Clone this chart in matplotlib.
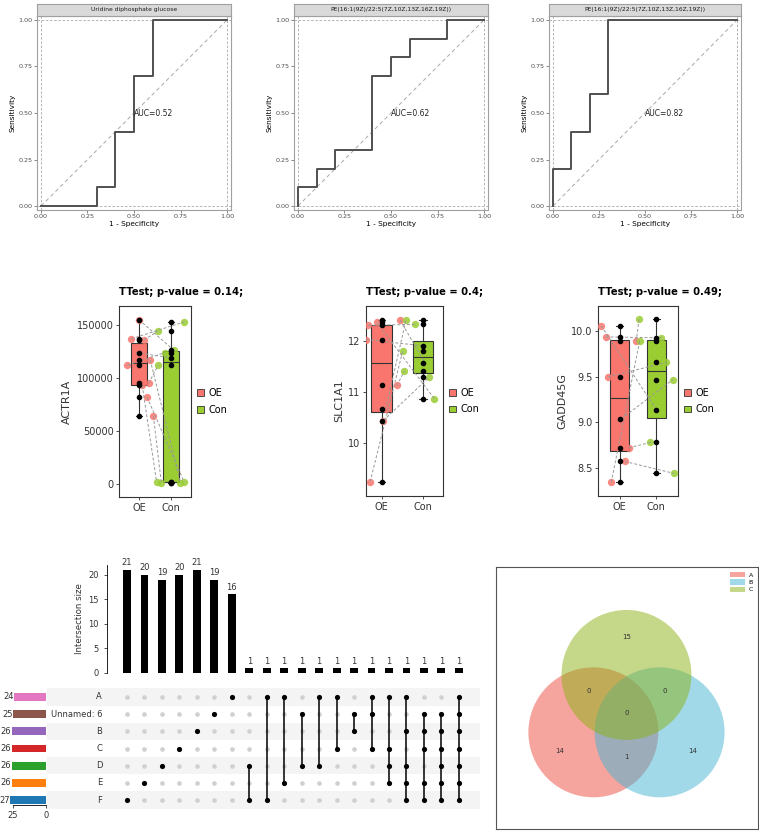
import numpy as np
import matplotlib.pyplot as plt
from matplotlib.patches import Patch, Circle, Rectangle
import matplotlib.transforms as mtransforms

# ---------------- data ----------------
# ROC curves (top row)
roc_titles = ["Uridine diphosphate glucose",
              "PE(16:1(9Z)/22:5(7Z,10Z,13Z,16Z,19Z))",
              "PE(16:1(9Z)/22:5(7Z,10Z,13Z,16Z,19Z))"]
roc_fpr = [
    [0, 0.3, 0.3, 0.4, 0.4, 0.5, 0.5, 0.6, 0.6, 1.0],
    [0, 0, 0.1, 0.1, 0.2, 0.2, 0.4, 0.4, 0.5, 0.5, 0.6, 0.6, 0.8, 0.8, 1.0],
    [0, 0, 0.1, 0.1, 0.2, 0.2, 0.3, 0.3, 1.0],
]
roc_tpr = [
    [0, 0, 0.1, 0.1, 0.4, 0.4, 0.7, 0.7, 1.0, 1.0],
    [0, 0.1, 0.1, 0.2, 0.2, 0.3, 0.3, 0.7, 0.7, 0.8, 0.8, 0.9, 0.9, 1.0, 1.0],
    [0, 0.2, 0.2, 0.4, 0.4, 0.6, 0.6, 1.0, 1.0],
]
roc_auc = [0.52, 0.62, 0.82]

# paired boxplots (middle row)
genes = ["ACTR1A", "SLC1A1", "GADD45G"]
pvals = ["0.14", "0.4", "0.49"]
groups = ["OE", "Con"]
oe_vals = [
    [155000, 137000, 136000, 124000, 117000, 112000, 95000, 93000, 82000, 64000],
    [12.41, 12.37, 12.31, 12.03, 11.13, 10.67, 10.44, 9.24],
    [10.06, 9.94, 9.89, 9.50, 9.04, 8.72, 8.57, 8.34],
]
con_vals = [
    [126000, 153000, 144000, 119000, 1200, 124000, 112000, 2000, 1500, 800],
    [11.58, 10.87, 12.33, 11.90, 11.41, 12.41, 11.29, 11.80],
    [9.14, 9.93, 10.14, 9.66, 9.47, 8.78, 8.44, 9.90],
]
# horizontal jitter of the coloured points
oe_jit = [
    [0.0, -0.25, 0.15, -0.1, 0.35, -0.37, 0.3, 0.1, 0.25, 0.45],
    [0.45, -0.12, -0.33, -0.37, 0.37, 0.1, 0.04, -0.28],
    [-0.5, -0.38, 0.45, -0.32, 0.05, 0.25, 0.14, -0.23],
]
con_jit = [
    [0.1, 0.42, -0.42, 0.05, 0.3, -0.2, -0.4, -0.45, 0.42, -0.3],
    [0.05, 0.28, -0.2, 0.1, -0.45, -0.41, 0.15, -0.49],
    [0.0, 0.14, -0.47, 0.27, 0.45, -0.16, 0.47, -0.45],
]
box_yticks = [[0, 50000, 100000, 150000], [10, 11, 12], [8.5, 9.0, 9.5, 10.0]]
box_yticklabels = [["0", "50000", "100000", "150000"], ["10", "11", "12"],
                   ["8.5", "9.0", "9.5", "10.0"]]

# upset plot (bottom left)
set_names = ["A", "Unnamed: 6", "B", "C", "D", "E", "F"]
set_totals = [24, 25, 26, 26, 26, 26, 27]
inter_sizes = [21, 20, 19, 20, 21, 19, 16, 1, 1, 1, 1, 1, 1, 1, 1, 1, 1, 1, 1, 1]
inter_members = [
    ["F"], ["E"], ["D"], ["C"], ["B"], ["Unnamed: 6"], ["A"],
    ["D", "F"], ["A", "F"], ["A", "E"], ["Unnamed: 6", "D"], ["A", "D"],
    ["A", "C"], ["Unnamed: 6", "B"], ["A", "Unnamed: 6", "C"],
    ["A", "C", "D", "E"], ["A", "B", "D", "E", "F"],
    ["Unnamed: 6", "B", "C", "E", "F"], ["Unnamed: 6", "B", "C", "D", "E", "F"],
    ["A", "Unnamed: 6", "B", "C", "D", "E", "F"],
]

# venn (bottom right)
venn_sets = ["A", "B", "C"]
venn_counts = {"100": 14, "010": 14, "001": 15, "110": 1, "101": 0, "011": 0, "111": 0}

# ---------------- layout helpers ----------------
W, H = 759, 831
fig = plt.figure(figsize=(W / 100, H / 100), dpi=100)


def px_axes(left, top, width, height):
    return fig.add_axes([left / W, 1 - (top + height) / H, width / W, height / H])


# ---------------- ROC row ----------------
roc_left = [37, 294, 549]
roc_w = [194, 194, 192]
for i in range(3):
    ax = px_axes(roc_left[i], 16, roc_w[i], 194)
    for v in (0, 1):
        ax.axhline(v, color="#a8a8a8", lw=0.6, ls=(0, (3, 2)), zorder=1)
        ax.axvline(v, color="#a8a8a8", lw=0.6, ls=(0, (3, 2)), zorder=1)
    ax.plot([0, 1], [0, 1], color="#a8a8a8", lw=0.7, ls=(0, (4, 3)), zorder=1)
    ax.plot(roc_fpr[i], roc_tpr[i], color="#505050", lw=1.4, zorder=3)
    ax.text(0.5, 0.5, f"AUC={roc_auc[i]:.2f}", fontsize=5.5, ha="left", va="center",
            color="#222222")
    ax.set_xlim(-0.0215, 1.0215)
    ax.set_ylim(-0.0215, 1.0215)
    ticks = [0, 0.25, 0.5, 0.75, 1.0]
    ax.set_xticks(ticks, [f"{t:.2f}" for t in ticks])
    ax.set_yticks(ticks, [f"{t:.2f}" for t in ticks])
    ax.tick_params(labelsize=4.6, length=2, width=0.5, colors="#555555",
                   labelcolor="#4d4d4d", pad=1)
    for s in ax.spines.values():
        s.set_color("#a0a0a0")
        s.set_linewidth(0.8)
    ax.set_xlabel("1 - Specificity", fontsize=5.3, labelpad=1.5)
    ax.set_ylabel("Sensitivity", fontsize=5.3, labelpad=2)

    sax = px_axes(roc_left[i], 4, roc_w[i], 12)
    sax.set_facecolor("#d9d9d9")
    sax.set_xticks([])
    sax.set_yticks([])
    for s in sax.spines.values():
        s.set_color("#a0a0a0")
        s.set_linewidth(0.8)
    sax.text(0.5, 0.5, roc_titles[i], fontsize=4.3, ha="center", va="center",
             color="#1a1a1a", transform=sax.transAxes)

# ---------------- boxplot row ----------------
box_rects = [(119, 306, 72, 191), (366, 306, 77, 190), (598, 306, 80, 190)]
box_xlim = [(0.37, 2.63), (0.62, 2.49), (0.41, 2.59)]
box_ylim = [(-12300, 168000), (8.96, 12.69), (8.19, 10.28)]
oe_col = "#F8766D"
con_col = "#9ACD32"
for i in range(3):
    ax = px_axes(*box_rects[i])
    bp = ax.boxplot([oe_vals[i], con_vals[i]], positions=[1, 2], widths=0.5,
                    whis=(0, 100), patch_artist=True, showfliers=False,
                    capwidths=0.18,
                    medianprops=dict(color="#333333", lw=0.8),
                    boxprops=dict(edgecolor="#333333", lw=0.8),
                    whiskerprops=dict(color="#333333", lw=0.8),
                    capprops=dict(color="#333333", lw=0.8))
    bp["boxes"][0].set_facecolor(oe_col)
    bp["boxes"][1].set_facecolor(con_col)
    for b in bp["boxes"]:
        b.set_zorder(2)

    ox = [1 + j for j in oe_jit[i]]
    cx = [2 + j for j in con_jit[i]]
    ax.scatter(ox, oe_vals[i], s=28, color=oe_col, alpha=0.85, lw=0, zorder=3)
    ax.scatter(cx, con_vals[i], s=28, color=con_col, alpha=0.85, lw=0, zorder=3)
    for k in range(len(oe_vals[i])):
        ax.plot([ox[k], cx[k]], [oe_vals[i][k], con_vals[i][k]], color="#999999",
                lw=0.7, ls=(0, (3, 2)), zorder=4)
    ax.scatter([1] * len(oe_vals[i]), oe_vals[i], s=9, color="black", zorder=5)
    ax.scatter([2] * len(con_vals[i]), con_vals[i], s=9, color="black", zorder=5)

    ax.set_xlim(*box_xlim[i])
    ax.set_ylim(*box_ylim[i])
    ax.set_xticks([1, 2], groups)
    ax.set_yticks(box_yticks[i], box_yticklabels[i])
    ax.tick_params(labelsize=7, length=2, width=0.6, colors="#333333",
                   labelcolor="#333333", pad=2)
    for s in ax.spines.values():
        s.set_color("#333333")
        s.set_linewidth(0.8)
    ax.set_ylabel(genes[i], fontsize=8, color="#333333", labelpad=3)
    ax.set_title(f"TTest; p-value = {pvals[i]};", loc="left", fontsize=7.2,
                 fontweight="bold", pad=8)
    handles = [Patch(facecolor=oe_col, edgecolor="#333333", lw=0.6),
               Patch(facecolor=con_col, edgecolor="#333333", lw=0.6)]
    ax.legend(handles, groups, loc="center left", bbox_to_anchor=(1.03, 0.5),
              frameon=False, fontsize=7, handlelength=0.7, handleheight=0.7,
              handletextpad=0.5, labelspacing=0.7, borderaxespad=0)

# ---------------- upset plot ----------------
col_x = np.arange(len(inter_sizes))
up_xlim = (-1.145, 20.21)
n_sets = len(set_names)
row_y = {name: n_sets - 1 - k for k, name in enumerate(set_names)}

bax = px_axes(107, 565, 373, 108)
bax.bar(col_x, inter_sizes, width=0.45, color="black")
for x, v in zip(col_x, inter_sizes):
    bax.text(x, v + 0.5, str(v), ha="center", va="bottom", fontsize=6, color="#333333")
bax.set_xlim(*up_xlim)
bax.set_ylim(0, 22)
bax.set_xticks([])
bax.set_yticks([0, 5, 10, 15, 20])
bax.tick_params(axis="y", labelsize=6, length=2.5, width=0.6, colors="#333333")
for side in ("top", "right", "bottom"):
    bax.spines[side].set_visible(False)
bax.spines["left"].set_linewidth(0.6)
bax.set_ylabel("Intersection size", fontsize=6.2, color="#333333", labelpad=3)

max_ = px_axes(107, 688.4, 373, 120.2)
max_.set_xlim(*up_xlim)
max_.set_ylim(-0.5, n_sets - 0.5)
max_.axis("off")
blend = mtransforms.blended_transform_factory(max_.transAxes, max_.transData)
for name, y in row_y.items():
    if (n_sets - 1 - y) % 2 == 0:
        max_.add_patch(Rectangle((-0.161, y - 0.5), 1.161, 1, transform=blend,
                                 color="#f4f4f4", lw=0, zorder=0, clip_on=False))
    max_.text(-0.013, y, name, transform=blend, ha="right", va="center",
              fontsize=6, color="#333333")
for x, members in zip(col_x, inter_members):
    ys_all = list(row_y.values())
    max_.scatter([x] * len(ys_all), ys_all, s=11, color="#d0d0d0", lw=0, zorder=1)
    ys = [row_y[m] for m in members]
    if len(ys) > 1:
        max_.plot([x, x], [min(ys), max(ys)], color="black", lw=1.1, zorder=2)
    max_.scatter([x] * len(ys), ys, s=14, color="black", lw=0, zorder=3)

set_colors = ["#e377c2", "#8c564b", "#9467bd", "#d62728", "#2ca02c", "#ff7f0e", "#1f77b4"]
tax = px_axes(8.4, 688.4, 37.6, 120.2)
tax.barh([row_y[n] for n in set_names], set_totals, height=0.45, color=set_colors)
for n, v in zip(set_names, set_totals):
    tax.text(v + 0.4, row_y[n], str(v), ha="right", va="center", fontsize=6,
             color="#333333")
tax.set_xlim(28.5, 0)
tax.set_ylim(-0.5, n_sets - 0.5)
tax.set_yticks([])
tax.set_xticks([25, 0])
tax.tick_params(axis="x", labelsize=6, length=2.5, width=0.6, colors="#333333", pad=2)
for side in ("top", "right", "left"):
    tax.spines[side].set_visible(False)
tax.spines["bottom"].set_bounds(0, 25)
tax.spines["bottom"].set_linewidth(0.6)
tax.spines["bottom"].set_position(("outward", -2.6))

# ---------------- venn ----------------
vax = px_axes(496, 567, 262, 262)
vax.set_xlim(0, 1)
vax.set_ylim(0, 1)
vax.set_xticks([])
vax.set_yticks([])
for s in vax.spines.values():
    s.set_color("#555555")
    s.set_linewidth(0.8)
venn_colors = ["#EC4A3E", "#45B4D2", "#8CB214"]
center0 = np.array([0.498, 0.442])
dist, rad = 0.146, 0.248
angles = np.deg2rad([210, 330, 90])
centers = [center0 + dist * np.array([np.cos(a), np.sin(a)]) for a in angles]
for c, col in zip(centers, venn_colors):
    vax.add_patch(Circle(c, rad, facecolor=col, alpha=0.5, lw=0))

# label each region at the centre of mass of the part that lies inside the lens
gx, gy = np.meshgrid(np.linspace(0, 1, 500), np.linspace(0, 1, 500))
inside = [(gx - c[0]) ** 2 + (gy - c[1]) ** 2 <= rad ** 2 for c in centers]
for key, cnt in venn_counts.items():
    mask = np.ones_like(gx, dtype=bool)
    for bit, ins in zip(key, inside):
        mask &= ins if bit == "1" else ~ins
    px, py = gx[mask].mean(), gy[mask].mean()
    if key.count("1") == 1:
        # push single-set labels a little further out, as in the original
        d = np.array([px, py]) - center0
        px, py = center0 + d * 1.12
    vax.text(px, py, str(cnt), ha="center", va="center", fontsize=5, color="#333333")
vhandles = [Patch(facecolor=c, alpha=0.5, lw=0) for c in venn_colors]
vax.legend(vhandles, venn_sets, loc="upper right", frameon=False, fontsize=4.5,
           handlelength=2.4, handleheight=0.9, handletextpad=0.6, labelspacing=0.25,
           borderaxespad=0.4)

fig.savefig("out.png", dpi=100)
